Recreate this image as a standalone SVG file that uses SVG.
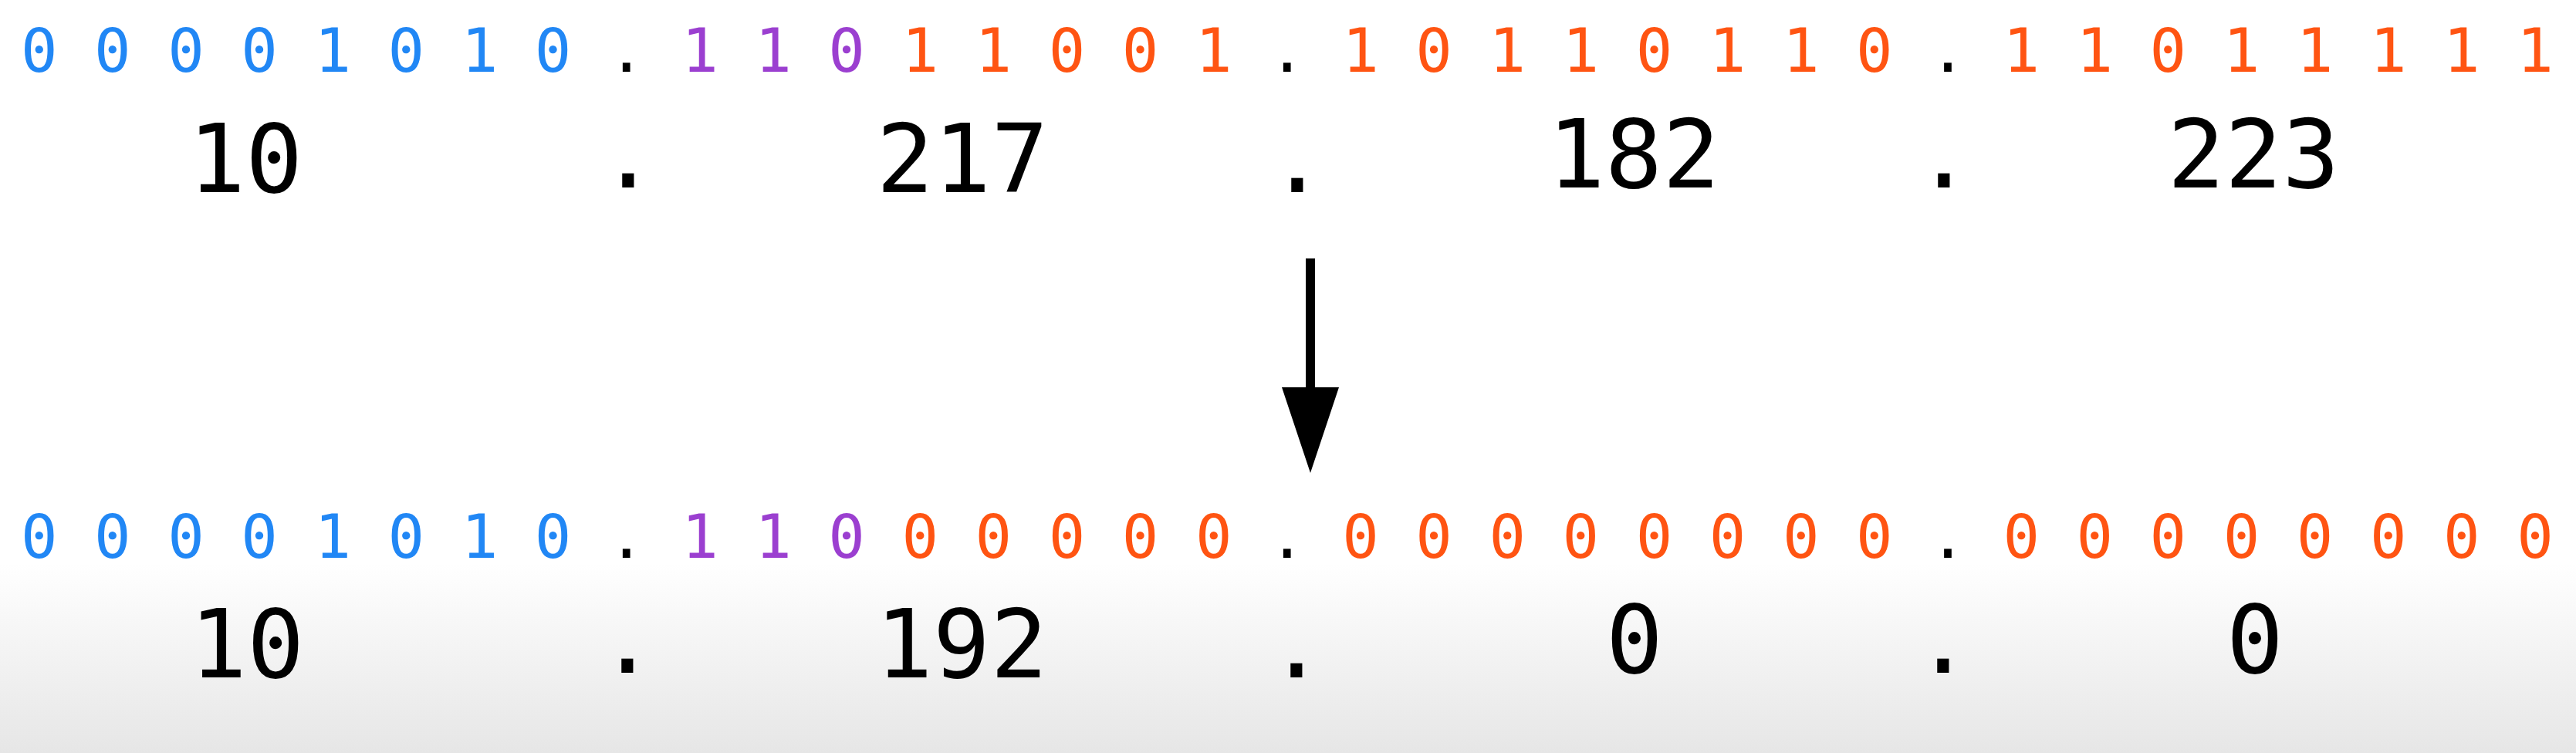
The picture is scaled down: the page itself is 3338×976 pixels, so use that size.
<svg xmlns="http://www.w3.org/2000/svg" width="3338" height="976" viewBox="0 0 3338 976">
<defs>
<linearGradient id="bg" x1="0" y1="0" x2="0" y2="1">
<stop offset="0" stop-color="#ffffff"/>
<stop offset="1" stop-color="#e6e6e6"/>
</linearGradient>
<marker id="head" viewBox="0 0 111 74" refX="0" refY="37" markerWidth="111" markerHeight="74" markerUnits="userSpaceOnUse" orient="auto">
<polygon points="0,0 111,37 0,74" fill="#000"/>
</marker>
</defs>
<style>
.bin{font-family:"DejaVu Sans Mono","Liberation Mono",monospace;font-size:79px;white-space:pre;fill:#000}
.dec{font-family:"DejaVu Sans Mono","Liberation Mono",monospace;font-size:123.5px;fill:#000;text-anchor:middle}
.b{fill:#2187f5}
.p{fill:#9b3fd0}
.o{fill:#ff5412}
.k{fill:#000}
</style>
<rect x="0" y="0" width="3338" height="976" fill="#ffffff"/>
<rect x="0" y="730" width="3338" height="246" fill="url(#bg)"/>
<g id="top-binary">
<text class="bin" x="27" y="93"><tspan class="b">0 0 0 0 1 0 1 0</tspan><tspan class="k"> . </tspan><tspan class="p">1 1 0</tspan><tspan class="o"> 1 1 0 0 1</tspan><tspan class="k"> . </tspan><tspan class="o">1 0 1 1 0 1 1 0</tspan><tspan class="k"> . </tspan><tspan class="o">1 1 0 1 1 1 1 1</tspan></text>
</g>
<g id="top-decimal">
<text class="dec" x="318" y="249">10</text>
<text class="dec" x="814" y="243">.</text>
<text class="dec" x="1247" y="249">217</text>
<text class="dec" x="1681" y="249">.</text>
<text class="dec" x="2117" y="243">182</text>
<text class="dec" x="2519" y="243">.</text>
<text class="dec" x="2920" y="243">223</text>
</g>
<g id="connectors">
<line x1="1698" y1="335" x2="1698" y2="502" stroke="#000" stroke-width="12" marker-end="url(#head)"/>
</g>
<g id="bottom-binary">
<text class="bin" x="27" y="723"><tspan class="b">0 0 0 0 1 0 1 0</tspan><tspan class="k"> . </tspan><tspan class="p">1 1 0</tspan><tspan class="o"> 0 0 0 0 0</tspan><tspan class="k"> . </tspan><tspan class="o">0 0 0 0 0 0 0 0</tspan><tspan class="k"> . </tspan><tspan class="o">0 0 0 0 0 0 0 0</tspan></text>
</g>
<g id="bottom-decimal">
<text class="dec" x="320" y="878">10</text>
<text class="dec" x="813" y="872">.</text>
<text class="dec" x="1246" y="878">192</text>
<text class="dec" x="1680" y="878">.</text>
<text class="dec" x="2118" y="872">0</text>
<text class="dec" x="2518" y="872">.</text>
<text class="dec" x="2922" y="872">0</text>
</g>
</svg>
